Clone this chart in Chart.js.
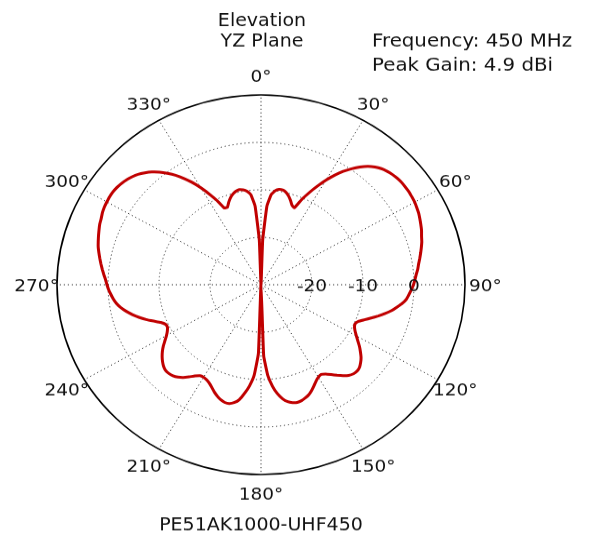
<!DOCTYPE html>
<html><head><meta charset="utf-8">
<script src="https://cdn.jsdelivr.net/npm/chart.js@4/dist/chart.umd.min.js"></script>
<style>
html,body{margin:0;padding:0;background:#fff;overflow:hidden}
#wrap{width:590px;height:575px;transform:scaleY(0.9304);transform-origin:0 0;}
canvas{display:block}
</style></head><body>
<div id="wrap"><canvas id="c" width="590" height="575"></canvas></div>
<script>
// angle categories, degrees clockwise from top (2 deg steps)
const thetaDeg = Array.from({length: 180}, (_, i) => i * 2);

// gain (dBi), 0..180 deg
const gainRight = [
 -30, -20.6, -13.4, -10.9, -10.0, -9.6, -9.6, -9.9, -10.5, -11.3,
 -12.2, -12.5, -10.3, -8.4, -6.5, -4.6, -2.8, -1.2, 0.2, 1.5,
 2.6, 3.4, 4.0, 4.4, 4.7, 4.9, 5.0, 5.0, 5.0, 4.9,
 4.8, 4.6, 4.4, 4.1, 3.8, 3.5, 3.1, 2.8, 2.4, 2.0,
 1.6, 1.2, 0.9, 0.5, 0.2, -0.1, -0.5, -0.9, -1.3, -2.0,
 -2.9, -3.8, -4.9, -6.1, -7.3, -8.4, -9.4, -9.8, -9.6, -9.1,
 -8.4, -7.6, -6.7, -5.9, -5.1, -4.5, -4.0, -3.8, -3.9, -4.3,
 -5.0, -5.8, -6.6, -7.3, -7.7, -7.5, -7.0, -6.3, -5.6, -5.0,
 -4.6, -4.3, -4.2, -4.4, -4.8, -5.6, -6.8, -8.5, -10.8, -15.0,
 -30
];
// gain (dBi), 182..358 deg
const gainLeft = [
 -15.5, -10.9, -8.6, -6.9, -5.4, -4.6, -4.2, -4.2, -4.5, -5.0,
 -5.6, -6.3, -6.9, -7.3, -7.5, -7.4, -6.8, -6.0, -5.2, -4.6,
 -4.2, -4.0, -4.0, -4.3, -4.8, -5.4, -6.1, -6.9, -7.8, -8.6,
 -9.2, -9.6, -9.5, -8.8, -7.6, -6.3, -5.1, -4.0, -3.0, -2.1,
 -1.4, -0.9, -0.5, -0.1, 0.2, 0.5, 0.9, 1.3, 1.7, 2.1,
 2.5, 2.9, 3.2, 3.5, 3.8, 4.1, 4.3, 4.6, 4.8, 4.9,
 5.0, 5.0, 4.9, 4.7, 4.4, 4.0, 3.5, 2.8, 2.0, 1.0,
 -0.2, -1.5, -3.0, -4.6, -6.4, -8.3, -10.2, -12.3, -12.4, -11.5,
 -10.7, -10.1, -9.7, -9.5, -9.7, -10.1, -10.9, -13.4, -20.6
];
const gain = gainRight.concat(gainLeft);

const angleTicks = [0, 30, 60, 90, 120, 150, 180, 210, 240, 270, 300, 330];
const angleTickLabels = ['0°','30°','60°','90°','120°','150°','180°','210°','240°','270°','300°','330°'];
const radialTicks = [-20, -10, 0];
const radialTickLabels = ['-20', '-10', '0'];
const rMin = -30, rMax = 10;

const titleLines = ['Elevation', 'YZ Plane'];
const infoLines = ['Frequency: 450 MHz', 'Peak Gain: 4.9 dBi'];
const footer = 'PE51AK1000-UHF450';

const FONT = '"DejaVu Sans", "Liberation Sans", sans-serif';

const textPlugin = {
  id: 'texts',
  afterDraw(chart) {
    const ctx = chart.ctx;
    const s = chart.scales.r;
    ctx.save();
    ctx.fillStyle = '#111';
    // angle labels
    ctx.font = '18.5px ' + FONT;
    ctx.textAlign = 'center';
    ctx.textBaseline = 'alphabetic';
    const outer = s.getDistanceFromCenterForValue(rMax) * 1.1;
    angleTicks.forEach((a, k) => {
      const p = s.getPointPosition(thetaDeg.indexOf(a), outer);
      ctx.fillText(angleTickLabels[k], p.x, p.y + 6.8);
    });
    // radial tick labels along 90 deg
    const i90 = thetaDeg.indexOf(90);
    radialTicks.forEach((v, k) => {
      const p = s.getPointPosition(i90, s.getDistanceFromCenterForValue(v));
      ctx.fillText(radialTickLabels[k], p.x, p.y + 6.8);
    });
    // title
    ctx.font = '19px ' + FONT;
    ctx.fillText(titleLines[0], 262, 28);
    ctx.fillText(titleLines[1], 262, 50.2);
    ctx.fillText(footer, 261, 570);
    ctx.textAlign = 'left';
    ctx.font = '19.8px ' + FONT;
    ctx.fillText(infoLines[0], 372, 50.2);
    ctx.fillText(infoLines[1], 372, 75.5);
    ctx.restore();
  }
};

new Chart(document.getElementById('c'), {
  type: 'radar',
  data: {
    labels: thetaDeg,
    datasets: [{
      data: gain,
      borderColor: '#c00000',
      borderWidth: 3,
      borderJoinStyle: 'round',
      pointRadius: 0,
      fill: false,
      tension: 0.1
    }]
  },
  options: {
    responsive: false,
    animation: false,
    layout: {padding: {left: 57, right: 125, top: 102, bottom: 65}},
    plugins: {legend: {display: false}, tooltip: {enabled: false}, title: {display: false}},
    scales: {
      r: {
        min: rMin, max: rMax,
        startAngle: 0,
        ticks: {display: false, stepSize: 10},
        pointLabels: {display: false},
        grid: {
          circular: true,
          color: (c) => (c.tick && c.tick.value === rMax) ? '#000' : '#333',
          lineWidth: (c) => (c.tick && c.tick.value === rMax) ? 1.6 : 1
        },
        border: {dash: (c) => (c.tick && c.tick.value === rMax) ? [] : [1.2, 2.8]},
        angleLines: {
          color: '#333',
          lineWidth: (c) => (thetaDeg[c.index] % 30 === 0) ? 1 : 0,
          borderDash: [1.2, 2.8]
        }
      }
    }
  },
  plugins: [textPlugin]
});
</script>
</body></html>
